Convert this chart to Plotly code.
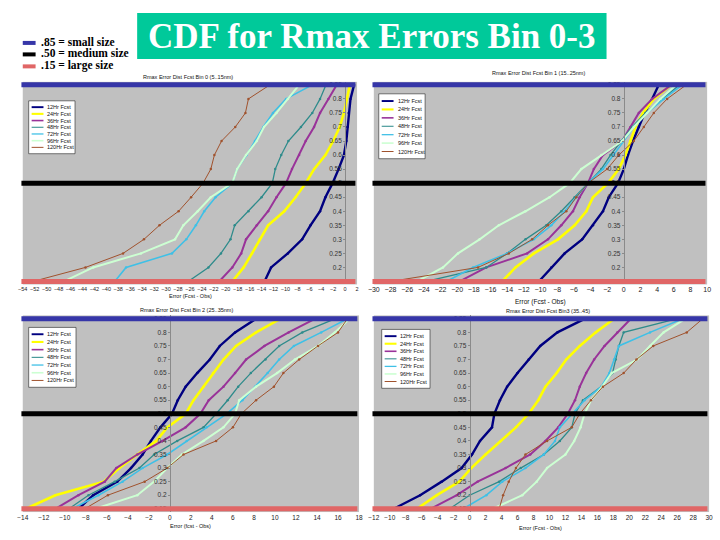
import plotly.graph_objects as go

W, H = 720, 540

# ---------------- data ----------------
cdf_levels = [0.15, 0.20, 0.25, 0.30, 0.35, 0.40, 0.45, 0.50, 0.55, 0.60, 0.65, 0.70, 0.75, 0.80, 0.85]
series_names = ["12Hr Fcst", "24Hr Fcst", "36Hr Fcst", "48Hr Fcst", "72Hr Fcst", "96Hr Fcst", "120Hr Fcst"]

# Bin 0 (5..15nm): error (x) at each cumulative level
bin0_12 = [-13.5, -12.4, -9.6, -7.2, -5.8, -4.2, -3.3, -2.1, -1.1, -0.2, 0.2, 0.4, 0.6, 0.9, 1.5]
bin0_24 = [-18.9, -17.0, -15.6, -14.3, -12.9, -10.2, -8.3, -6.6, -5.2, -3.3, -2.0, -0.9, -0.2, 0.3, 0.8]
bin0_36 = [-21.1, -18.9, -17.4, -16.6, -14.8, -12.9, -11.5, -9.9, -8.9, -7.7, -6.6, -5.2, -4.2, -2.8, -1.4]
bin0_48 = [-26.3, -22.9, -20.8, -19.2, -18.5, -16.2, -14.0, -12.2, -11.7, -10.7, -9.5, -7.4, -5.5, -4.2, -3.2]
bin0_72 = [-38.6, -36.7, -29.0, -26.6, -25.0, -23.6, -21.7, -18.9, -18.1, -16.5, -15.1, -13.7, -12.1, -9.9, -5.5]
bin0_96 = [-47.1, -42.2, -34.2, -28.5, -27.1, -24.7, -22.5, -18.9, -18.1, -16.6, -14.8, -13.6, -11.5, -9.6, -7.7]
bin0_120 = [-52.3, -43.5, -37.2, -33.7, -31.1, -27.9, -25.8, -23.8, -22.5, -21.9, -20.7, -18.4, -16.7, -16.2, -12.6]

# Bin 1 (15..25nm)
bin1_12 = [-10.2, -8.7, -7.1, -5.0, -3.7, -2.5, -1.8, -0.7, 0.0, 0.5, 1.1, 1.8, 2.5, 3.4, 4.2]
bin1_24 = [-14.6, -13.0, -10.8, -7.9, -5.9, -4.5, -3.7, -1.9, -0.6, 0.2, 0.8, 1.4, 2.3, 3.6, 5.7]
bin1_36 = [-19.7, -16.5, -11.6, -9.1, -7.5, -6.1, -5.3, -4.3, -3.6, -2.5, -0.2, 0.8, 1.8, 3.4, 5.7]
bin1_48 = [-23.7, -16.5, -14.0, -11.8, -9.3, -7.5, -5.9, -4.3, -2.7, -1.6, -0.3, 1.0, 2.6, 4.7, 6.7]
bin1_72 = [-21.3, -18.1, -14.0, -10.8, -8.7, -7.1, -5.7, -4.3, -2.5, -1.2, 0.0, 1.2, 2.8, 4.8, 7.0]
bin1_96 = [-24.8, -21.7, -19.9, -17.3, -15.0, -11.8, -8.9, -6.5, -5.1, -2.7, -0.2, 1.2, 2.8, 4.4, 6.3]
bin1_120 = [-28.0, -17.5, -13.8, -11.0, -9.1, -6.9, -5.7, -4.3, -2.0, -0.6, 1.2, 2.4, 3.6, 5.2, 7.5]

# Bin 2 (25..35nm)
bin2_12 = [-8.7, -7.3, -5.0, -3.7, -2.6, -1.8, -0.9, 0.2, 0.75, 1.5, 2.6, 3.8, 4.75, 6.2, 8.2]
bin2_24 = [-13.7, -10.9, -6.3, -4.8, -3.1, -1.3, -0.25, 1.5, 2.25, 3.2, 4.1, 5.1, 6.3, 8.2, 10.5]
bin2_36 = [-10.9, -8.7, -6.2, -5.1, -3.1, -0.7, 1.5, 2.9, 3.7, 5.1, 6.2, 7.25, 9.0, 11.3, 13.8]
bin2_48 = [-9.6, -7.75, -5.25, -2.9, -1.5, 0.7, 3.2, 4.4, 5.5, 6.5, 7.7, 9.1, 10.4, 12.6, 15.7]
bin2_72 = [-9.3, -6.8, -4.5, -2.6, -0.25, 1.6, 3.5, 5.4, 6.9, 8.1, 9.3, 10.4, 11.8, 14.4, 16.9]
bin2_96 = [-7.1, -3.1, -1.5, -0.25, 1.15, 3.2, 5.1, 6.2, 6.6, 8.2, 10.2, 11.9, 14.1, 15.7, 17.1]
bin2_120 = [-8.1, -5.9, -2.4, -0.25, 1.3, 4.4, 6.0, 6.8, 8.2, 9.9, 10.8, 12.3, 14.1, 16.0, 16.9]

# Bin 3 (35..45)
bin3_12 = [-9.5, -6.2, -3.5, -1.0, 0.3, 1.3, 2.8, 3.1, 3.8, 4.7, 6.0, 7.4, 8.85, 11.0, 14.4]
bin3_24 = [-6.6, -4.1, -1.3, 0.2, 2.0, 3.9, 5.8, 7.4, 8.6, 9.5, 10.9, 12.1, 13.8, 15.8, 18.1]
bin3_36 = [-4.9, -1.6, 1.0, 4.5, 7.6, 9.5, 11.1, 12.3, 13.2, 13.8, 14.6, 15.6, 16.9, 18.5, 20.2]
bin3_48 = [-2.5, 0.0, 3.7, 6.4, 9.3, 11.3, 12.8, 13.2, 14.2, 16.5, 17.9, 18.3, 18.7, 19.3, 25.9]
bin3_72 = [-0.8, 2.1, 4.1, 7.0, 9.3, 10.7, 11.3, 12.8, 14.4, 16.5, 17.5, 18.1, 18.7, 22.6, 26.7]
bin3_96 = [2.9, 6.6, 8.4, 9.7, 12.0, 13.1, 13.9, 14.4, 15.2, 16.6, 17.8, 21.0, 22.6, 24.3, 27.0]
bin3_120 = [3.7, 4.2, 4.9, 5.8, 7.0, 9.7, 12.8, 13.8, 15.2, 16.7, 19.3, 20.9, 23.0, 27.2, 29.2]

panel_titles = ["Rmax Error Dist Fcst Bin 0 (5..15nm)", "Rmax Error Dist Fcst Bin 1 (15..25nm)",
                "Rmax Error Dist Fcst Bin 2 (25..35nm)", "Rmax Error Dist Fcst Bin3 (35..45)"]
axis_titles = ["Error (Fcst - Obs)", "Error (Fcst - Obs)", "Error (fcst - Obs)", "Error (Fcst - Obs)"]
x_ranges = [[-54, 2], [-30, 10], [-14, 18], [-12, 30]]
threshold_levels = [0.85, 0.50, 0.15]
threshold_labels = [".85 = small size", ".50 = medium size", ".15 = large size"]
main_title = "CDF for Rmax Errors Bin 0-3"

# ---------------- styles ----------------
series_colors = ["#000080", "#FFFF00", "#993399", "#2E8B8B", "#3FC0E6", "#CCFFD2", "#A0522D"]
series_widths = [2.4, 2.6, 2.0, 1.3, 1.6, 2.0, 1.0]
threshold_colors = ["#3636A8", "#000000", "#E06666"]
GRAY = "#C0C0C0"
FONT = "Liberation Sans"


def px_x(x):
    return x / W


def px_y(y):
    return 1 - y / H


def note(text, x, y, size, color="#111", family=FONT, xanchor="center"):
    return dict(text=text, x=px_x(x), y=px_y(y), xref="paper", yref="paper",
                xanchor=xanchor, yanchor="middle", showarrow=False,
                font=dict(family=family, size=size, color=color))


panels = [
    dict(data=[bin0_12, bin0_24, bin0_36, bin0_48, bin0_72, bin0_96, bin0_120],
         xdom=(17, 356), ydom=(81, 284), yrng=(0.1393, 0.8607),
         title_xy=(185, 76), atitle_xy=(187, 296), atitle_size=5.5, tick_size=5.5,
         legend=(23, 100, 70, 153)),
    dict(data=[bin1_12, bin1_24, bin1_36, bin1_48, bin1_72, bin1_96, bin1_120],
         xdom=(373, 711), ydom=(81, 284), yrng=(0.1393, 0.8607),
         title_xy=(540, 72), atitle_xy=(542, 302), atitle_size=6.5, tick_size=7,
         legend=(378, 93, 425, 158)),
    dict(data=[bin2_12, bin2_24, bin2_36, bin2_48, bin2_72, bin2_96, bin2_120],
         xdom=(17, 358), ydom=(315, 512), yrng=(0.1379, 0.8625),
         title_xy=(183, 310), atitle_xy=(187, 526), atitle_size=5.5, tick_size=6.5,
         legend=(23, 327, 71, 387)),
    dict(data=[bin3_12, bin3_24, bin3_36, bin3_48, bin3_72, bin3_96, bin3_120],
         xdom=(373, 713), ydom=(315, 512), yrng=(0.1379, 0.8625),
         title_xy=(550, 311), atitle_xy=(542, 528), atitle_size=5.5, tick_size=6.5,
         legend=(381, 329, 430, 388)),
]

fig = go.Figure()
layout = dict(width=W, height=H, margin=dict(l=0, r=0, t=0, b=0),
              paper_bgcolor="white", plot_bgcolor=GRAY, showlegend=False)
shapes = []
annotations = []

for i, p in enumerate(panels):
    k = "" if i == 0 else str(i + 1)
    xa, ya = "x" + k, "y" + k
    x0p, x1p = p["xdom"]
    ytop, ybot = p["ydom"]
    xr = x_ranges[i]
    zero_pos = px_x(x0p + (0 - xr[0]) / (xr[1] - xr[0]) * (x1p - x0p))

    layout["xaxis" + k] = dict(
        domain=[px_x(x0p), px_x(x1p)], range=xr, anchor=ya, dtick=2, tick0=0,
        showgrid=False, zeroline=False, showline=False, ticks="", tickangle=0,
        tickfont=dict(family=FONT, size=p["tick_size"], color="#222"),
        ticklabelstandoff=0)
    layout["yaxis" + k] = dict(
        domain=[px_y(ybot), px_y(ytop)], range=list(p["yrng"]), anchor="free",
        position=zero_pos, side="left", showgrid=False, zeroline=False,
        showline=True, linecolor="#8A8A8A", linewidth=1,
        ticks="outside", ticklen=2, tickcolor="#8A8A8A",
        tickvals=cdf_levels, ticktext=[f"{v:g}" for v in cdf_levels],
        tickfont=dict(family=FONT, size=6.5, color="#333"))

    for j, xs in enumerate(p["data"]):
        fig.add_trace(go.Scatter(
            x=xs, y=cdf_levels, mode="lines+markers", name=series_names[j],
            xaxis=xa, yaxis=ya, cliponaxis=True,
            line=dict(color=series_colors[j], width=series_widths[j]),
            marker=dict(color=series_colors[j], size=2.5)))

    # threshold lines (.85 / .50 / .15)
    for lv, col in zip(threshold_levels, threshold_colors):
        shapes.append(dict(type="line", xref=xa + " domain", yref=ya,
                           x0=-0.004, x1=0.995, y0=lv, y1=lv,
                           line=dict(color=col, width=5), layer="above"))

    # panel title / axis title
    annotations.append(note(panel_titles[i], p["title_xy"][0], p["title_xy"][1], 5.5))
    annotations.append(note(axis_titles[i], p["atitle_xy"][0], p["atitle_xy"][1], p["atitle_size"]))

    # legend box (drawn by hand so that it fits the small Excel-style box)
    lx0, ly0, lx1, ly1 = p["legend"]
    shapes.append(dict(type="rect", xref="paper", yref="paper",
                       x0=px_x(lx0), x1=px_x(lx1), y0=px_y(ly1), y1=px_y(ly0),
                       fillcolor="white", line=dict(color="#222", width=0.6), layer="above"))
    n = len(series_names)
    step = (ly1 - ly0 - 6) / n
    for j, name in enumerate(series_names):
        yy = ly0 + 3 + step * (j + 0.5)
        shapes.append(dict(type="line", xref="paper", yref="paper",
                           x0=px_x(lx0 + 3), x1=px_x(lx0 + 15), y0=px_y(yy), y1=px_y(yy),
                           line=dict(color=series_colors[j], width=max(1, series_widths[j] * 0.8)),
                           layer="above"))
        annotations.append(note(name, lx0 + 17, yy, 5.5, xanchor="left"))

# main title box
shapes.append(dict(type="rect", xref="paper", yref="paper",
                   x0=px_x(133), x1=px_x(609), y0=px_y(58), y1=px_y(12),
                   fillcolor="#00C99A", line=dict(width=0), layer="below"))
annotations.append(note("<b>" + main_title + "</b>", 371, 36, 35, color="white",
                        family="Liberation Serif"))

# threshold key at the top left
for k_, (lab, col) in enumerate(zip(threshold_labels, threshold_colors)):
    yy = [42, 53.5, 65.5][k_]
    shapes.append(dict(type="line", xref="paper", yref="paper",
                       x0=px_x(17), x1=px_x(30), y0=px_y(yy), y1=px_y(yy),
                       line=dict(color=col, width=4)))
    annotations.append(note("<b>" + lab + "</b>", 33, yy - 1, 11.5, color="black",
                            family="Liberation Serif", xanchor="left"))

layout["shapes"] = shapes
layout["annotations"] = annotations
fig.update_layout(**layout)
fig.write_html("out.html")
